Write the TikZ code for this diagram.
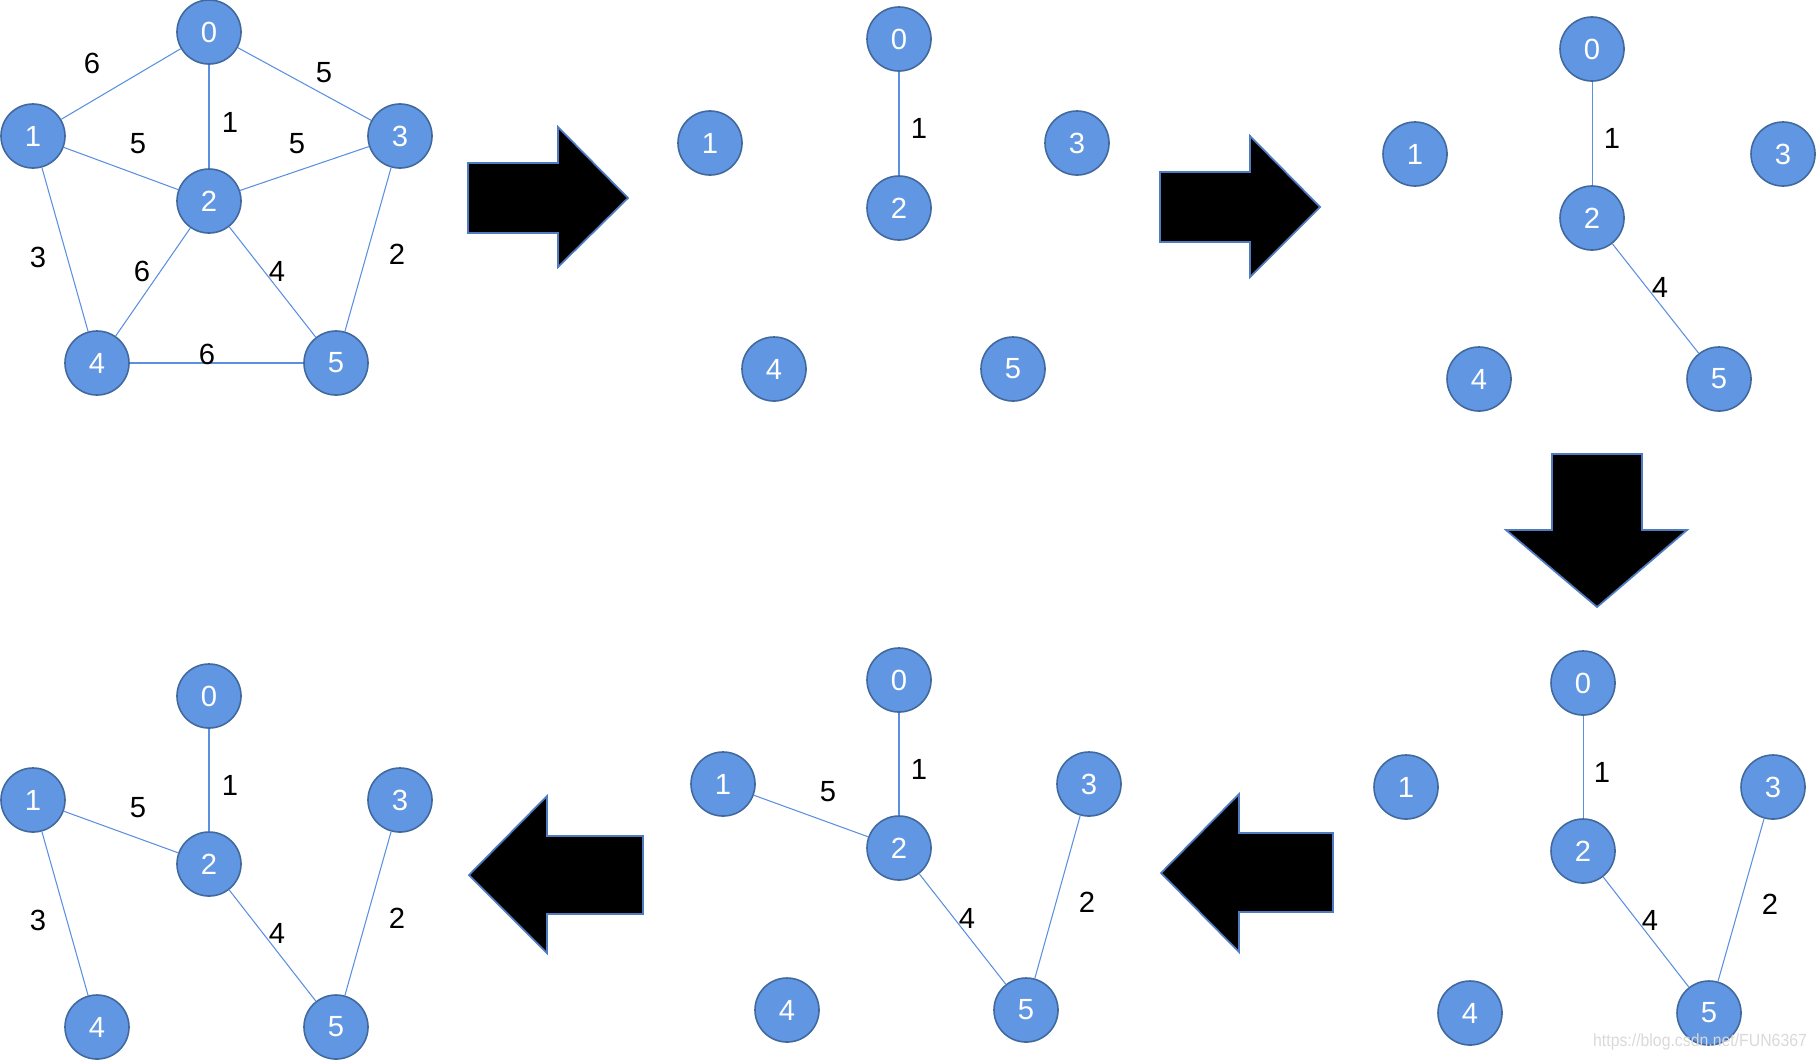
\documentclass[tikz,border=0pt]{standalone}
\usepackage{fontspec}
\setmainfont{Liberation Sans}
\usetikzlibrary{positioning}

\definecolor{nodeblue}{HTML}{6096E2}
\definecolor{rimblue}{HTML}{41699E}
\definecolor{edgeblue}{HTML}{5B8FE0}
\definecolor{arrowrim}{HTML}{4F7CC0}

\tikzset{
  vtx/.style={circle, fill=nodeblue, draw=rimblue, line width=0.45pt,
    minimum size=0.64cm, inner sep=0pt, text=white,
    font=\fontsize{8.3}{9}\selectfont},
  wt/.style={inner sep=0pt, font=\fontsize{8.3}{9}\selectfont},
  edge/.style={draw=edgeblue, line width=0.3pt},
  bigarrow/.style={fill=black, draw=arrowrim, line width=0.5pt}
}

\begin{document}
\begin{tikzpicture}[x=0.01cm, y=-0.01cm]
    \useasboundingbox (0,0) rectangle (1816,1060);

    % full graph
    \foreach \n/\x/\y in {0/209/32, 1/33/136, 2/209/201, 3/400/136, 4/97/363, 5/336/363}
        \node[vtx] (a\n) at (\x,\y) {\n};
    \draw[edge] (a0) -- (a1);
    \draw[edge] (a0) -- (a3);
    \draw[edge] (a0) -- (a2);
    \draw[edge] (a1) -- (a2);
    \draw[edge] (a2) -- (a3);
    \draw[edge] (a1) -- (a4);
    \draw[edge] (a2) -- (a4);
    \draw[edge] (a2) -- (a5);
    \draw[edge] (a3) -- (a5);
    \draw[edge] (a4) -- (a5);
    \node[wt] (wa01) at (92,63) {6};
    \node[wt] (wa03) at (324,73) {5};
    \node[wt] (wa02) at (230,122) {1};
    \node[wt] (wa12) at (138,144) {5};
    \node[wt] (wa23) at (297,144) {5};
    \node[wt] (wa14) at (38,257) {3};
    \node[wt] (wa24) at (142,271) {6};
    \node[wt] (wa25) at (277,271) {4};
    \node[wt] (wa35) at (397,254) {2};
    \node[wt] (wa45) at (207,354) {6};

    % step 1
    \foreach \n/\x/\y in {0/899/39, 1/710/143, 2/899/208, 3/1077/143, 4/774/369, 5/1013/369}
        \node[vtx] (b\n) at (\x,\y) {\n};
    \draw[edge] (b0) -- (b2);
    \node[wt] (wb02) at (919,128) {1};

    % step 2
    \foreach \n/\x/\y in {0/1592/49, 1/1415/154, 2/1592/218, 3/1783/154, 4/1479/379, 5/1719/379}
        \node[vtx] (c\n) at (\x,\y) {\n};
    \draw[edge] (c0) -- (c2);
    \draw[edge] (c2) -- (c5);
    \node[wt] (wc02) at (1612,138) {1};
    \node[wt] (wc25) at (1660,287) {4};

    % step 3
    \foreach \n/\x/\y in {0/1583/683, 1/1406/787, 2/1583/851, 3/1773/787, 4/1470/1013, 5/1709/1013}
        \node[vtx] (d\n) at (\x,\y) {\n};
    \draw[edge] (d0) -- (d2);
    \draw[edge] (d2) -- (d5);
    \draw[edge] (d3) -- (d5);
    \node[wt] (wd02) at (1602,772) {1};
    \node[wt] (wd25) at (1650,920) {4};
    \node[wt] (wd35) at (1770,904) {2};

    % step 4
    \foreach \n/\x/\y in {0/899/680, 1/723/784, 2/899/848, 3/1089/784, 4/787/1010, 5/1026/1010}
        \node[vtx] (e\n) at (\x,\y) {\n};
    \draw[edge] (e0) -- (e2);
    \draw[edge] (e1) -- (e2);
    \draw[edge] (e2) -- (e5);
    \draw[edge] (e3) -- (e5);
    \node[wt] (we02) at (919,769) {1};
    \node[wt] (we12) at (828,792) {5};
    \node[wt] (we25) at (967,918) {4};
    \node[wt] (we35) at (1087,902) {2};

    % step 5
    \foreach \n/\x/\y in {0/209/696, 1/33/800, 2/209/864, 3/400/800, 4/97/1027, 5/336/1027}
        \node[vtx] (f\n) at (\x,\y) {\n};
    \draw[edge] (f0) -- (f2);
    \draw[edge] (f1) -- (f2);
    \draw[edge] (f1) -- (f4);
    \draw[edge] (f2) -- (f5);
    \draw[edge] (f3) -- (f5);
    \node[wt] (wf02) at (230,785) {1};
    \node[wt] (wf12) at (138,808) {5};
    \node[wt] (wf14) at (38,920) {3};
    \node[wt] (wf25) at (277,933) {4};
    \node[wt] (wf35) at (397,918) {2};

    % block arrows
    \draw[bigarrow] (468,163) -- (558,163) -- (558,127) -- (628,198) -- (558,267) -- (558,233) -- (468,233) -- cycle;
    \draw[bigarrow] (1160,172) -- (1250,172) -- (1250,136) -- (1320,207) -- (1250,277) -- (1250,242) -- (1160,242) -- cycle;
    \draw[bigarrow] (1552,454) -- (1642,454) -- (1642,530) -- (1687,530) -- (1597,607) -- (1506,530) -- (1552,530) -- cycle;
    \draw[bigarrow] (1333,833) -- (1239,833) -- (1239,794) -- (1161,873) -- (1239,952) -- (1239,912) -- (1333,912) -- cycle;
    \draw[bigarrow] (643,836) -- (547,836) -- (547,796) -- (469,875) -- (547,953) -- (547,914) -- (643,914) -- cycle;

    \node[inner sep=0pt, text=black!15, xscale=0.9, font=\fontsize{5}{6}\selectfont] (mark) at (1700,1042) {https://blog.csdn.net/FUN6367};
\end{tikzpicture}
\end{document}
